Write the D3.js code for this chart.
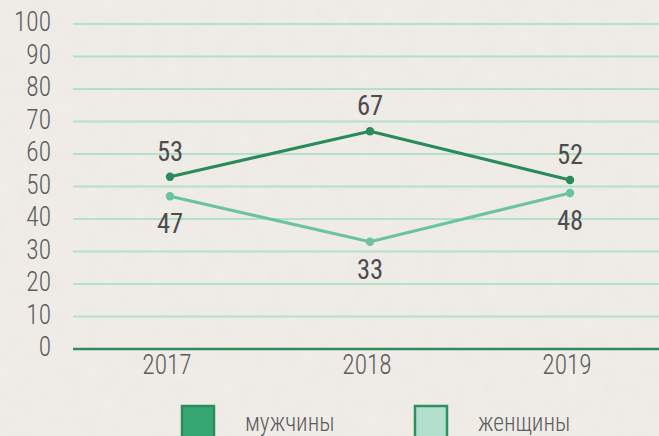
<!DOCTYPE html>
<html>
<head>
<meta charset="utf-8">
<script src="https://cdn.jsdelivr.net/npm/d3@7"></script>
<style>
  html, body { margin: 0; padding: 0; background: #f1eee9; }
  svg { display: block; }
  .lbl { font-family: "Roboto Condensed", Roboto, sans-serif; font-weight: 300; fill: #5c5c5c; }
  .val { font-family: "Roboto Condensed", Roboto, sans-serif; font-weight: 400; fill: #4d4d4d; }
</style>
</head>
<body>
<script>
// Share of men and women by year, percent
const years = ["2017", "2018", "2019"];
const men = [53, 67, 52];
const women = [47, 33, 48];
const yTicks = [0, 10, 20, 30, 40, 50, 60, 70, 80, 90, 100];
const seriesNames = ["мужчины", "женщины"];

const W = 659, H = 436;
const SX_TICK = 0.94, SX_VAL = 0.95, SX_LEG = 0.9; // horizontal squeeze for a condensed look
const svg = d3.select("body").append("svg").attr("width", W).attr("height", H);

// paper-like background with faint mottling
const defs = svg.append("defs");
const f = defs.append("filter").attr("id", "paper").attr("x", 0).attr("y", 0).attr("width", "100%").attr("height", "100%");
f.append("feTurbulence").attr("type", "fractalNoise").attr("baseFrequency", 0.06).attr("numOctaves", 2).attr("seed", 4).attr("result", "n");
f.append("feColorMatrix").attr("in", "n").attr("type", "matrix")
  .attr("values", "0 0 0 0 0.55  0 0 0 0 0.52  0 0 0 0 0.47  0 0 0 0.10 0");
svg.append("rect").attr("width", W).attr("height", H).attr("fill", "#f1eee9");
svg.append("rect").attr("width", W).attr("height", H).attr("filter", "url(#paper)");

const gridX0 = 73;
const x = d3.scalePoint().domain(years).range([170, 570]);
const y = d3.scaleLinear().domain([0, 100]).range([349, 24]);

// horizontal gridlines
svg.append("g").selectAll("line").data(yTicks.filter(d => d > 0)).join("line")
  .attr("x1", gridX0).attr("x2", W)
  .attr("y1", d => y(d)).attr("y2", d => y(d))
  .attr("stroke", "#b4e0cb").attr("stroke-width", 2.2);

// condensed text helper
function cText(g, cls, size, anchor) {
  return g.append("text").attr("class", cls)
    .attr("font-size", size).attr("text-anchor", anchor);
}

// y tick labels
svg.append("g").selectAll("g").data(yTicks).join("g")
  .attr("transform", d => `translate(51,${y(d) + 7}) scale(${SX_TICK},1)`)
  .each(function (d) { cText(d3.select(this), "lbl", 27, "end").text(d); });

// baseline
svg.append("line").attr("x1", gridX0).attr("x2", W)
  .attr("y1", y(0)).attr("y2", y(0))
  .attr("stroke", "#2e8a5c").attr("stroke-width", 2.5);

// x labels
svg.append("g").selectAll("g").data(years).join("g")
  .attr("transform", d => `translate(${x(d) - 3},374) scale(${SX_TICK},1)`)
  .each(function (d) { cText(d3.select(this), "lbl", 27, "middle").text(d); });

const line = d3.line().x((d, i) => x(years[i])).y(d => y(d));

function drawSeries(vals, color, above) {
  const g = svg.append("g");
  g.append("path").datum(vals).attr("d", line)
    .attr("fill", "none").attr("stroke", color).attr("stroke-width", 3.2)
    .attr("stroke-linejoin", "round");
  g.selectAll("circle").data(vals).join("circle")
    .attr("cx", (d, i) => x(years[i])).attr("cy", d => y(d)).attr("r", 4.2)
    .attr("fill", color);
  g.selectAll("g").data(vals).join("g")
    .attr("transform", (d, i) => `translate(${x(years[i])},${above ? y(d) - 16 : y(d) + 37}) scale(${SX_VAL},1)`)
    .each(function (d) { cText(d3.select(this), "val", 28, "middle").text(d); });
}
drawSeries(men, "#2a8a5b", true);
drawSeries(women, "#6cc49d", false);

// legend
const legend = [
  { name: seriesNames[0], fill: "#36a673", stroke: "#2c8c5e", x: 182, tx: 245 },
  { name: seriesNames[1], fill: "#b3e0cc", stroke: "#2e8f5f", x: 415, tx: 478 }
];
const lg = svg.append("g").selectAll("g").data(legend).join("g");
lg.append("rect")
  .attr("x", d => d.x).attr("y", 406).attr("width", 32).attr("height", 40)
  .attr("fill", d => d.fill).attr("stroke", d => d.stroke).attr("stroke-width", 2.5);
lg.append("g")
  .attr("transform", d => `translate(${d.tx},431) scale(${SX_LEG},1)`)
  .each(function (d) { cText(d3.select(this), "lbl", 26, "start").text(d.name); });
</script>
</body>
</html>
